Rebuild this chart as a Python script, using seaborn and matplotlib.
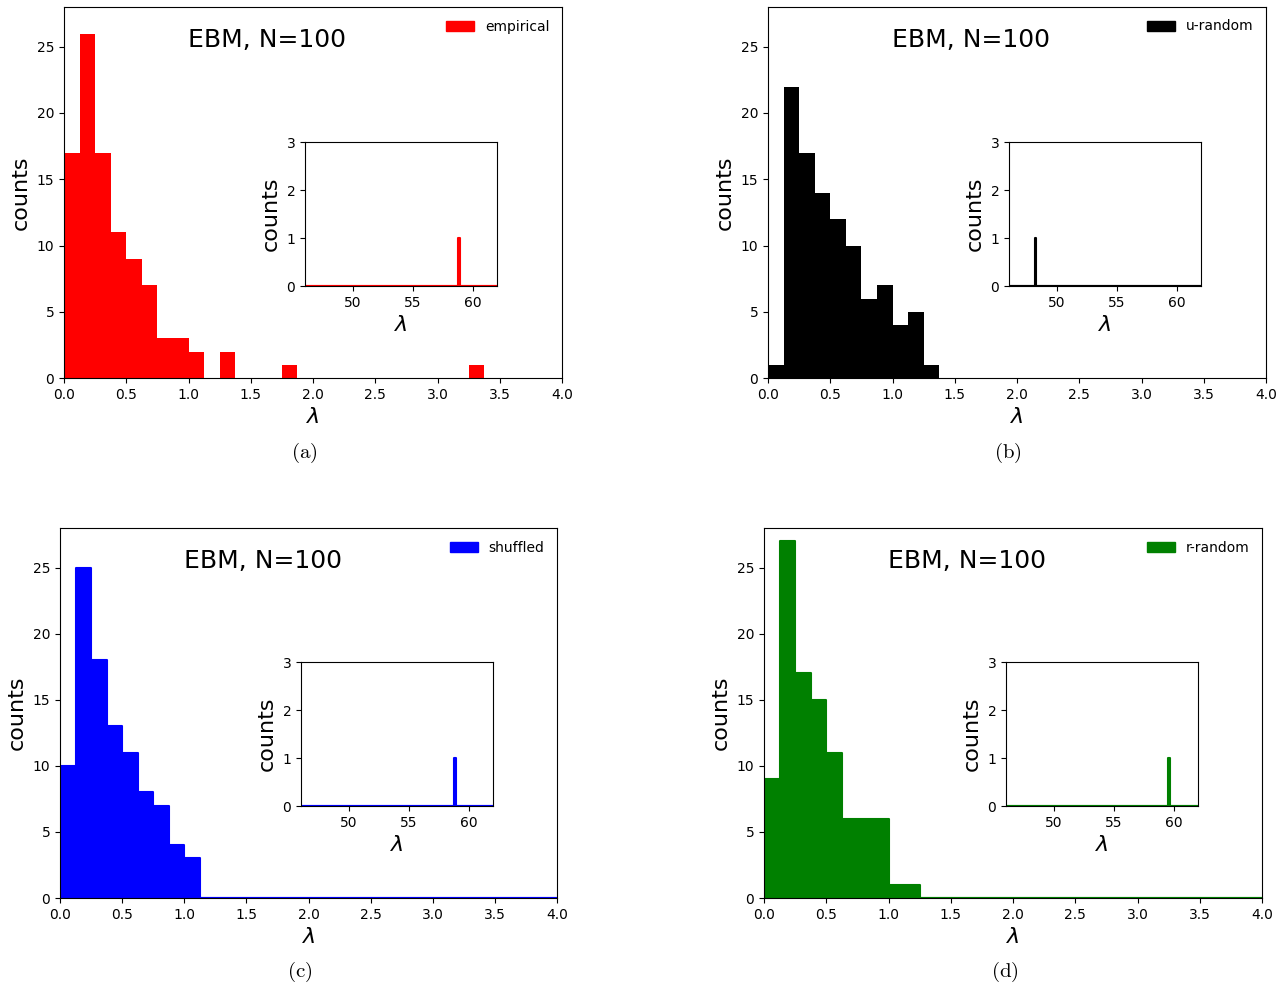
import numpy as np
import pandas as pd
import matplotlib
matplotlib.use("Agg")
import matplotlib.pyplot as plt
import matplotlib.patches as mpatches
import seaborn as sns

# ---------------- data ----------------
bin_width = 0.125
main_range = (0.0, 4.0)
inset_range = (46.0, 62.0)

labels = ["empirical", "u-random", "shuffled", "r-random"]
colors = ["red", "black", "blue", "green"]
captions = ["(a)", "(b)", "(c)", "(d)"]
title_text = "EBM, N=100"

# counts per bin of width 0.125 from 0 to 4 (32 bins)
counts_empirical = [17, 26, 17, 11, 9, 7, 3, 3, 2, 0, 2, 0, 0, 0, 1, 0,
                    0, 0, 0, 0, 0, 0, 0, 0, 0, 0, 1, 0, 0, 0, 0, 0]
counts_urandom = [1, 22, 17, 14, 12, 10, 6, 7, 4, 5, 1, 0, 0, 0, 0, 0,
                  0, 0, 0, 0, 0, 0, 0, 0, 0, 0, 0, 0, 0, 0, 0, 0]
counts_shuffled = [10, 25, 18, 13, 11, 8, 7, 4, 3, 0, 0, 0, 0, 0, 0, 0,
                   0, 0, 0, 0, 0, 0, 0, 0, 0, 0, 0, 0, 0, 0, 0, 0]
counts_rrandom = [9, 27, 17, 15, 11, 6, 6, 6, 1, 1, 0, 0, 0, 0, 0, 0,
                  0, 0, 0, 0, 0, 0, 0, 0, 0, 0, 0, 0, 0, 0, 0, 0]
all_counts = [counts_empirical, counts_urandom, counts_shuffled, counts_rrandom]

# largest eigenvalue (shown in insets)
outliers = [58.8, 48.2, 58.8, 59.55]

# ---------------- layout ----------------
W, H = 1281, 983
fig = plt.figure(figsize=(W / 100, H / 100), dpi=100)

def fr(l, t, r, b):
    return [l / W, 1 - b / H, (r - l) / W, (b - t) / H]

main_boxes = [fr(64, 7, 562, 378), fr(768, 7, 1266, 378),
              fr(60, 528, 557, 898), fr(764, 528, 1262, 898)]
inset_boxes = [fr(305, 142, 497, 286), fr(1009, 142, 1201, 286),
               fr(301, 662, 493, 806), fr(1006, 662, 1198, 806)]
caption_pos = [(304, 453), (1008, 453), (300, 972), (1005, 972)]
elements = ["bars", "bars", "step", "step"]

n_bins = len(counts_empirical)
centers = main_range[0] + bin_width * (np.arange(n_bins) + 0.5)

for i in range(4):
    df = pd.DataFrame({"lam": centers, "count": all_counts[i]})
    ax = fig.add_axes(main_boxes[i])
    if elements[i] == "bars":
        sns.histplot(data=df, x="lam", weights="count", binwidth=bin_width,
                     binrange=main_range, element="bars", fill=True,
                     color=colors[i], alpha=1, linewidth=0, ax=ax)
    else:
        sns.histplot(data=df, x="lam", weights="count", binwidth=bin_width,
                     binrange=main_range, element="step", fill=True,
                     color=colors[i], alpha=1, linewidth=1.5,
                     edgecolor=colors[i], ax=ax)
    ax.set_xlim(*main_range)
    ax.set_ylim(0, 28)
    ax.set_xticks(np.arange(0, 4.01, 0.5))
    ax.set_yticks([0, 5, 10, 15, 20, 25])
    ax.tick_params(labelsize=10)
    ax.set_xlabel(r"$\lambda$", fontsize=16)
    ax.set_ylabel("counts", fontsize=16)
    ax.text(1.0, 25, title_text, fontsize=18)
    handle = mpatches.Patch(color=colors[i], label=labels[i])
    ax.legend(handles=[handle], loc="upper right", frameon=False, fontsize=10)

    axi = fig.add_axes(inset_boxes[i])
    dfi = pd.DataFrame({"lam": [outliers[i]]})
    sns.histplot(data=dfi, x="lam", binwidth=bin_width, binrange=inset_range,
                 element="step", fill=True, color=colors[i], alpha=1,
                 linewidth=1.5, edgecolor=colors[i], ax=axi)
    axi.set_xlim(*inset_range)
    axi.set_ylim(0, 3)
    axi.set_xticks([50, 55, 60])
    axi.set_yticks([0, 1, 2, 3])
    axi.tick_params(labelsize=10)
    axi.set_xlabel(r"$\lambda$", fontsize=16)
    axi.set_ylabel("counts", fontsize=16)

    cx, cy = caption_pos[i]
    fig.text(cx / W, 1 - cy / H, r"$\mathrm{" + captions[i] + "}$",
             math_fontfamily="cm", ha="center", va="center", fontsize=15)

fig.savefig("out.png", dpi=100)
